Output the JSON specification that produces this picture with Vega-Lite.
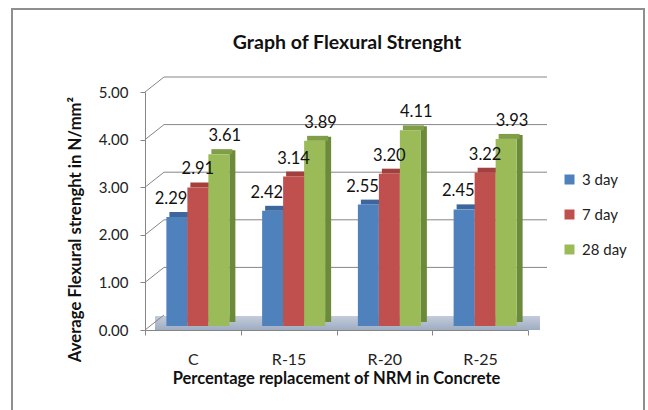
{
  "$schema": "https://vega.github.io/schema/vega-lite/v6.json",
  "width": 632,
  "height": 405,
  "autosize": {"type": "none"},
  "padding": {"left": 12, "top": 9, "right": 4, "bottom": 0},
  "background": "white",
  "config": {
    "font": "Lato",
    "view": {"stroke": "#8f8f8f", "strokeWidth": 2}
  },
  "title": {
    "text": "Graph of Flexural Strenght",
    "fontSize": 19.5,
    "fontWeight": "bold",
    "color": "#111111",
    "anchor": "middle",
    "frame": "group",
    "orient": "top",
    "offset": -59,
    "baseline": "alphabetic",
    "dx": 19
  },
  "datasets": {
    "strength": [
      {"mix": "C", "age": "3 day", "strength": 2.29},
      {"mix": "C", "age": "7 day", "strength": 2.91},
      {"mix": "C", "age": "28 day", "strength": 3.61},
      {"mix": "R-15", "age": "3 day", "strength": 2.42},
      {"mix": "R-15", "age": "7 day", "strength": 3.14},
      {"mix": "R-15", "age": "28 day", "strength": 3.89},
      {"mix": "R-20", "age": "3 day", "strength": 2.55},
      {"mix": "R-20", "age": "7 day", "strength": 3.20},
      {"mix": "R-20", "age": "28 day", "strength": 4.11},
      {"mix": "R-25", "age": "3 day", "strength": 2.45},
      {"mix": "R-25", "age": "7 day", "strength": 3.22},
      {"mix": "R-25", "age": "28 day", "strength": 3.93}
    ],
    "levels": [
      {"level": 0}, {"level": 1}, {"level": 2}, {"level": 3}, {"level": 4}, {"level": 5}
    ]
  },
  "resolve": {
    "scale": {"x": "independent", "xOffset": "independent", "color": "independent"},
    "axis": {"y": "independent"}
  },
  "layer": [
    {
      "description": "floor of the plot, carries both axes",
      "data": {"name": "levels"},
      "transform": [{"filter": "datum.level == 0"}],
      "mark": {
        "type": "rect",
        "xOffset": 10,
        "x2Offset": 12,
        "y2Offset": -14,
        "color": {
          "gradient": "linear", "x1": 0, "y1": 0, "x2": 0, "y2": 1,
          "stops": [{"offset": 0, "color": "#c4ccda"}, {"offset": 1, "color": "#9eacc2"}]
        }
      },
      "encoding": {
        "x": {
          "datum": "C",
          "type": "nominal",
          "bandPosition": 0,
          "scale": {"domain": ["C", "R-15", "R-20", "R-25"], "range": [133, 516], "paddingInner": 0, "paddingOuter": 0},
          "axis": {
            "orient": "bottom",
            "offset": -84,
            "tickBand": "extent",
            "domainColor": "#868686",
            "tickColor": "#868686",
            "tickSize": 5,
            "labelPadding": 29,
            "labelBaseline": "alphabetic",
            "labelAngle": 0,
            "labelFontSize": 16,
            "labelColor": "#222222",
            "title": "Percentage  replacement of NRM in Concrete",
            "titleFontSize": 16.5,
            "titleFontWeight": "bold",
            "titleColor": "#111111",
            "titleX": 324,
            "titleY": 53,
            "titleAlign": "center",
            "titleBaseline": "alphabetic"
          }
        },
        "x2": {"datum": "R-25", "bandPosition": 1},
        "y": {
          "field": "level",
          "type": "quantitative",
          "scale": {"domain": [0, 5], "range": [321, 83], "nice": false, "zero": false},
          "axis": {
            "orient": "left",
            "offset": -133,
            "values": [0, 1, 2, 3, 4, 5],
            "format": ".2f",
            "grid": false,
            "domainColor": "#868686",
            "tickColor": "#868686",
            "tickSize": 5,
            "labelPadding": 12,
            "labelFontSize": 15,
            "labelColor": "#222222",
            "title": "Average Flexural strenght  in N/mm²",
            "titleFontSize": 16.7,
            "titleFontWeight": "bold",
            "titleColor": "#111111",
            "titleAngle": -90,
            "titleX": -70,
            "titleY": 220,
            "titleAlign": "center",
            "titleBaseline": "middle"
          }
        },
        "y2": {"field": "level"}
      }
    },
    {
      "description": "gridlines on the back wall",
      "data": {"name": "levels"},
      "transform": [{"filter": "datum.level > 0"}],
      "mark": {"type": "rule", "color": "#868686", "strokeWidth": 1, "xOffset": 19, "x2Offset": 19, "yOffset": -15},
      "encoding": {
        "x": {"datum": "C", "type": "nominal", "bandPosition": 0, "scale": {"domain": ["C", "R-15", "R-20", "R-25"], "range": [133, 516], "paddingInner": 0, "paddingOuter": 0}, "axis": null},
        "x2": {"datum": "R-25", "bandPosition": 1},
        "y": {"field": "level", "type": "quantitative", "scale": {"domain": [0, 5], "range": [321, 83], "nice": false, "zero": false}, "axis": null}
      }
    },
    {
      "description": "side-wall connectors from the value axis to the back wall",
      "data": {"name": "levels"},
      "mark": {"type": "rule", "color": "#868686", "strokeWidth": 1, "x2Offset": 19, "y2Offset": -15},
      "encoding": {
        "x": {"datum": "C", "type": "nominal", "bandPosition": 0, "scale": {"domain": ["C", "R-15", "R-20", "R-25"], "range": [133, 516], "paddingInner": 0, "paddingOuter": 0}, "axis": null},
        "x2": {"datum": "C", "bandPosition": 0},
        "y": {"field": "level", "type": "quantitative", "scale": {"domain": [0, 5], "range": [321, 83], "nice": false, "zero": false}, "axis": null},
        "y2": {"field": "level"}
      }
    },
    {
      "description": "shaded right side of each column",
      "data": {"name": "strength"},
      "mark": {"type": "bar", "width": 6, "yOffset": -8, "y2Offset": -8},
      "encoding": {
        "x": {"field": "mix", "type": "nominal", "scale": {"domain": ["C", "R-15", "R-20", "R-25"], "range": [151.5, 534.5], "paddingInner": 0, "paddingOuter": 0}, "axis": null},
        "xOffset": {"field": "age", "type": "nominal", "scale": {"domain": ["3 day", "7 day", "28 day"], "paddingInner": 0, "paddingOuter": 0.78}},
        "y": {"field": "strength", "type": "quantitative", "scale": {"domain": [0, 5], "range": [321, 83], "nice": false, "zero": false}, "axis": null},
        "y2": {"datum": 0},
        "color": {"field": "age", "type": "nominal", "scale": {"domain": ["3 day", "7 day", "28 day"], "range": ["#385d8a", "#8c3836", "#6b8a3a"]}, "legend": null}
      }
    },
    {
      "description": "top face of each column",
      "data": {"name": "strength"},
      "mark": {"type": "bar", "yOffset": -4, "y2Offset": -9},
      "encoding": {
        "x": {"field": "mix", "type": "nominal", "scale": {"domain": ["C", "R-15", "R-20", "R-25"], "range": [141, 524], "paddingInner": 0, "paddingOuter": 0}, "axis": null},
        "xOffset": {"field": "age", "type": "nominal", "scale": {"domain": ["3 day", "7 day", "28 day"], "paddingInner": 0, "paddingOuter": 0.78}},
        "y": {"field": "strength", "type": "quantitative", "scale": {"domain": [0, 5], "range": [321, 83], "nice": false, "zero": false}, "axis": null},
        "y2": {"field": "strength"},
        "color": {"field": "age", "type": "nominal", "scale": {"domain": ["3 day", "7 day", "28 day"], "range": ["#3d679c", "#a3403d", "#7f9e47"]}, "legend": null}
      }
    },
    {
      "description": "front face of each column, carries the legend",
      "data": {"name": "strength"},
      "mark": {"type": "bar", "yOffset": -4, "y2Offset": -4},
      "encoding": {
        "x": {"field": "mix", "type": "nominal", "scale": {"domain": ["C", "R-15", "R-20", "R-25"], "range": [138, 521], "paddingInner": 0, "paddingOuter": 0}, "axis": null},
        "xOffset": {"field": "age", "type": "nominal", "scale": {"domain": ["3 day", "7 day", "28 day"], "paddingInner": 0, "paddingOuter": 0.78}},
        "y": {"field": "strength", "type": "quantitative", "scale": {"domain": [0, 5], "range": [321, 83], "nice": false, "zero": false}, "axis": null},
        "y2": {"datum": 0},
        "color": {
          "field": "age",
          "type": "nominal",
          "scale": {"domain": ["3 day", "7 day", "28 day"], "range": ["#4f81bd", "#c0504d", "#9bbb59"]},
          "legend": {
            "title": null,
            "orient": "none",
            "legendX": 550,
            "legendY": 163,
            "padding": 0,
            "symbolType": "square",
            "symbolSize": 100,
            "symbolStrokeWidth": 0,
            "labelFontSize": 15,
            "labelColor": "#222222",
            "labelOffset": 5,
            "rowPadding": 19
          }
        }
      }
    },
    {
      "description": "value labels above the columns",
      "data": {"name": "strength"},
      "mark": {"type": "text", "yOffset": -17, "baseline": "alphabetic", "fontSize": 16.5, "color": "#111111"},
      "encoding": {
        "x": {"field": "mix", "type": "nominal", "scale": {"domain": ["C", "R-15", "R-20", "R-25"], "range": [138, 521], "paddingInner": 0, "paddingOuter": 0}, "axis": null},
        "xOffset": {"field": "age", "type": "nominal", "scale": {"domain": ["3 day", "7 day", "28 day"], "paddingInner": 0, "paddingOuter": 0.78}},
        "y": {"field": "strength", "type": "quantitative", "scale": {"domain": [0, 5], "range": [321, 83], "nice": false, "zero": false}, "axis": null},
        "text": {"field": "strength", "type": "quantitative", "format": ".2f"}
      }
    }
  ]
}
